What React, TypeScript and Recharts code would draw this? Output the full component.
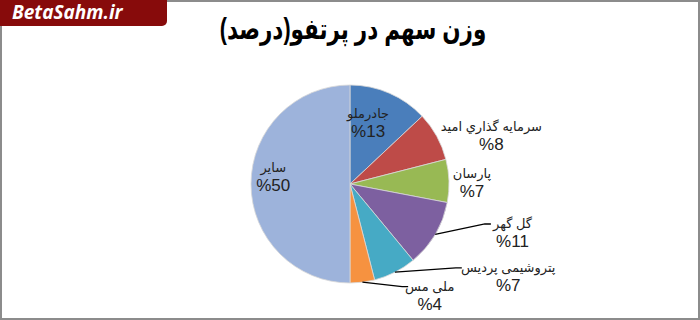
import { PieChart, Pie, Cell } from "recharts";

const names = [
  "جادرملو",
  "سرمایه گذاري امید",
  "پارسان",
  "گل گهر",
  "پتروشیمی پردیس",
  "ملی مس",
  "سایر",
];
const shares = [13, 8, 7, 11, 7, 4, 50];
const colors = ["#4A7EBB", "#BE4B48", "#98B954", "#7D60A0", "#46AAC5", "#F69240", "#9DB3DB"];

// where each label sits: distance from centre and turn from the slice middle (deg)
const labelSpots = [
  { dist: 63, turn: -6.7, leader: false },
  { dist: 149, turn: 10.4, leader: false },
  { dist: 122, turn: 1.8, leader: false },
  { dist: 170, turn: -13.5, leader: true },
  { dist: 184, turn: -32.3, leader: true },
  { dist: 138, turn: -28.1, leader: true },
  { dist: 77, turn: 4.5, leader: false },
];

const data = names.map((name, i) => ({ name, value: shares[i] }));

const FONT = "'Liberation Sans', 'DejaVu Sans', Arial, sans-serif";
const RAD = Math.PI / 180;

function renderLabel(props: any) {
  const { cx, cy, midAngle, outerRadius, index, name, value } = props;
  const spot = labelSpots[index];
  const a = (midAngle - spot.turn) * RAD;
  const x = cx + spot.dist * Math.cos(a);
  const y = cy - spot.dist * Math.sin(a);
  const nameY = y - 6;
  const pctY = y + 13;
  let leader = null;
  if (spot.leader) {
    const m = midAngle * RAD;
    const sx = cx + outerRadius * Math.cos(m);
    const sy = cy - outerRadius * Math.sin(m);
    const halfW = (name.length * 6.2) / 2;
    const ex = x - halfW - 3;
    const ey = nameY - 4;
    leader = (
      <path
        d={`M${sx},${sy} L${ex - 6},${ey} L${ex},${ey}`}
        stroke="#000"
        strokeWidth={1.3}
        fill="none"
      />
    );
  }
  return (
    <g key={`lbl-${index}`}>
      {leader}
      <text x={x} y={nameY} textAnchor="middle" fontSize={13} fill="#222" fontFamily={FONT} direction="rtl" style={{ unicodeBidi: "plaintext" } as any}>
        {name}
      </text>
      <text x={x} y={pctY} textAnchor="middle" fontSize={17} fill="#222" fontFamily={FONT}>
        {`%${value}`}
      </text>
    </g>
  );
}

export default function App() {
  return (
    <div style={{ position: "relative", width: 700, height: 320, background: "#fff" }}>
      <style>{`body{margin:0}`}</style>
      <div
        style={{
          position: "absolute",
          inset: 0,
          border: "2px solid #8c8c8c",
          boxSizing: "border-box",
        }}
      />
      <div
        style={{
          position: "absolute",
          left: 0,
          top: 0,
          width: 167,
          height: 26,
          background: "#870b0b",
          borderBottomRightRadius: 5,
          color: "#fff",
          fontFamily: "'Open Sans', 'DejaVu Sans', sans-serif",
          fontWeight: 700,
          fontStyle: "italic",
          fontSize: 19,
          lineHeight: "24px",
          paddingLeft: 12,
          boxSizing: "border-box",
          zIndex: 2,
        }}
      >
        BetaSahm.ir
      </div>
      <div
        style={{
          position: "absolute",
          left: 0,
          top: 12,
          width: 706,
          textAlign: "center",
          fontFamily: FONT,
          fontWeight: 700,
          fontSize: 29,
          direction: "rtl",
          color: "#000",
          transform: "scaleX(0.74)",
        }}
      >
        وزن سهم در پرتفو(درصد)
      </div>
      <div style={{ position: "absolute", left: 0, top: 0 }}>
        <PieChart width={700} height={320} margin={{ top: 0, right: 0, bottom: 0, left: 0 }}>
          <Pie
            data={data}
            dataKey="value"
            nameKey="name"
            cx={350}
            cy={184}
            outerRadius={99}
            startAngle={90}
            endAngle={-270}
            stroke="#d8d8d8"
            strokeWidth={0.8}
            label={renderLabel}
            labelLine={false}
            isAnimationActive={false}
          >
            {data.map((d, i) => (
              <Cell key={d.name} fill={colors[i]} />
            ))}
          </Pie>
        </PieChart>
      </div>
    </div>
  );
}
